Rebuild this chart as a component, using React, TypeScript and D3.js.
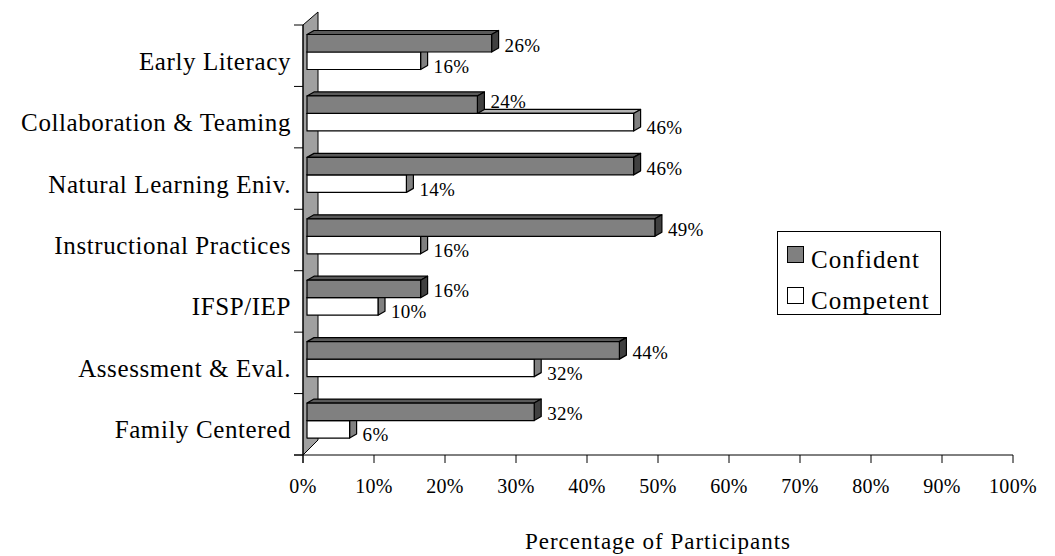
import React from 'react';
import * as d3 from 'd3';

const categories = [
  'Early Literacy',
  'Collaboration & Teaming',
  'Natural Learning Eniv.',
  'Instructional Practices',
  'IFSP/IEP',
  'Assessment & Eval.',
  'Family Centered',
];
const confident = [26, 24, 46, 49, 16, 44, 32];
const competent = [16, 46, 14, 16, 10, 32, 6];
const xTicks = [0, 10, 20, 30, 40, 50, 60, 70, 80, 90, 100];

const FONT = '"Liberation Serif", "Times New Roman", serif';

// 3D offsets
const WALL_DX = 15;
const WALL_DY = -13;
const BAR_SHIFT = 4;
const BAR_DX = 7;
const BAR_DY = -4;
const BAR_H = 17.5;

function Bar3D(props: any) {
  const { x0, x1, y, h, front, top, side } = props;
  const topFace = `M${x0},${y}L${x0 + BAR_DX},${y + BAR_DY}L${x1 + BAR_DX},${y + BAR_DY}L${x1},${y}Z`;
  const sideFace = `M${x1},${y}L${x1 + BAR_DX},${y + BAR_DY}L${x1 + BAR_DX},${y + h + BAR_DY}L${x1},${y + h}Z`;
  return (
    <g stroke="#000" strokeWidth={1.2} strokeLinejoin="round">
      <path d={topFace} fill={top} />
      <path d={sideFace} fill={side} />
      <rect x={x0} y={y} width={x1 - x0} height={h} fill={front} />
    </g>
  );
}

export default function App() {
  const x = d3.scaleLinear().domain([0, 100]).range([303, 1013]);
  const y = d3.scaleBand().domain(categories).range([25, 455]).padding(0);
  const bottom = 455;
  const top = 25;
  const x0 = x(0);
  const step = y.step();

  return (
    <svg width={1055} height={556} style={{ position: 'absolute', left: 0, top: 0, background: '#fff' }}>
      {/* back wall */}
      <path
        d={`M${x0},${top}L${x0 + WALL_DX},${top + WALL_DY}L${x0 + WALL_DX},${bottom + WALL_DY - 2}L${x0},${bottom}Z`}
        fill="#a0a0a0"
        stroke="#000"
        strokeWidth={1}
      />

      {/* category tick marks */}
      {d3.range(categories.length + 1).map((i) => (
        <line key={i} x1={294} x2={x0} y1={top + i * step} y2={top + i * step} stroke="#000" />
      ))}

      {/* axes */}
      <line x1={x0} x2={x0} y1={top} y2={bottom + 8} stroke="#000" />
      <line x1={294} x2={x(100)} y1={bottom} y2={bottom} stroke="#000" />
      {xTicks.map((t) => (
        <g key={t}>
          <line x1={x(t)} x2={x(t)} y1={bottom} y2={bottom + 8} stroke="#000" />
          <text x={x(t)} y={493} textAnchor="middle" fontFamily={FONT} fontSize={20} letterSpacing={0.3} fill="#000">
            {t}%
          </text>
        </g>
      ))}

      {/* bars */}
      {categories.map((c, i) => {
        const bt = y(c) as number;
        const confY = bt + 9.5;
        const compY = confY + BAR_H;
        const cx1 = x(confident[i]) + BAR_SHIFT;
        const px1 = x(competent[i]) + BAR_SHIFT;
        const bx0 = x0 + BAR_SHIFT;
        // lift the label when the bar below sticks out under it
        const lift = competent[i] > confident[i] ? 5 : 0;
        return (
          <g key={c}>
            <Bar3D x0={bx0} x1={px1} y={compY} h={BAR_H} front="#ffffff" top="#b4b4b4" side="#808080" />
            <Bar3D x0={bx0} x1={cx1} y={confY} h={BAR_H} front="#808080" top="#5a5a5a" side="#404040" />
            <text x={cx1 + BAR_DX + 6} y={confY + BAR_H / 2 + 8.5 - lift} fontFamily={FONT} fontSize={19} letterSpacing={0.3} fill="#000">
              {confident[i]}%
            </text>
            <text x={px1 + BAR_DX + 6} y={compY + BAR_H / 2 + 12} fontFamily={FONT} fontSize={19} letterSpacing={0.3} fill="#000">
              {competent[i]}%
            </text>
            <text
              x={291}
              y={bt + step / 2 + 14}
              textAnchor="end"
              fontFamily={FONT}
              fontSize={25}
              letterSpacing={0.6}
              fill="#000"
            >
              {c}
            </text>
          </g>
        );
      })}

      {/* legend */}
      <rect x={777.5} y={231.5} width={163} height={83} fill="#fff" stroke="#000" />
      <rect x={787.5} y={246.5} width={16} height={16} fill="#808080" stroke="#000" />
      <text x={811} y={268} fontFamily={FONT} fontSize={25} letterSpacing={1} fill="#000">Confident</text>
      <rect x={787.5} y={287.5} width={16} height={16} fill="#fff" stroke="#000" />
      <text x={811} y={309} fontFamily={FONT} fontSize={25} letterSpacing={1} fill="#000">Competent</text>

      {/* axis title */}
      <text x={658} y={549} textAnchor="middle" fontFamily={FONT} fontSize={23} letterSpacing={1} fill="#000">
        Percentage of Participants
      </text>
    </svg>
  );
}
